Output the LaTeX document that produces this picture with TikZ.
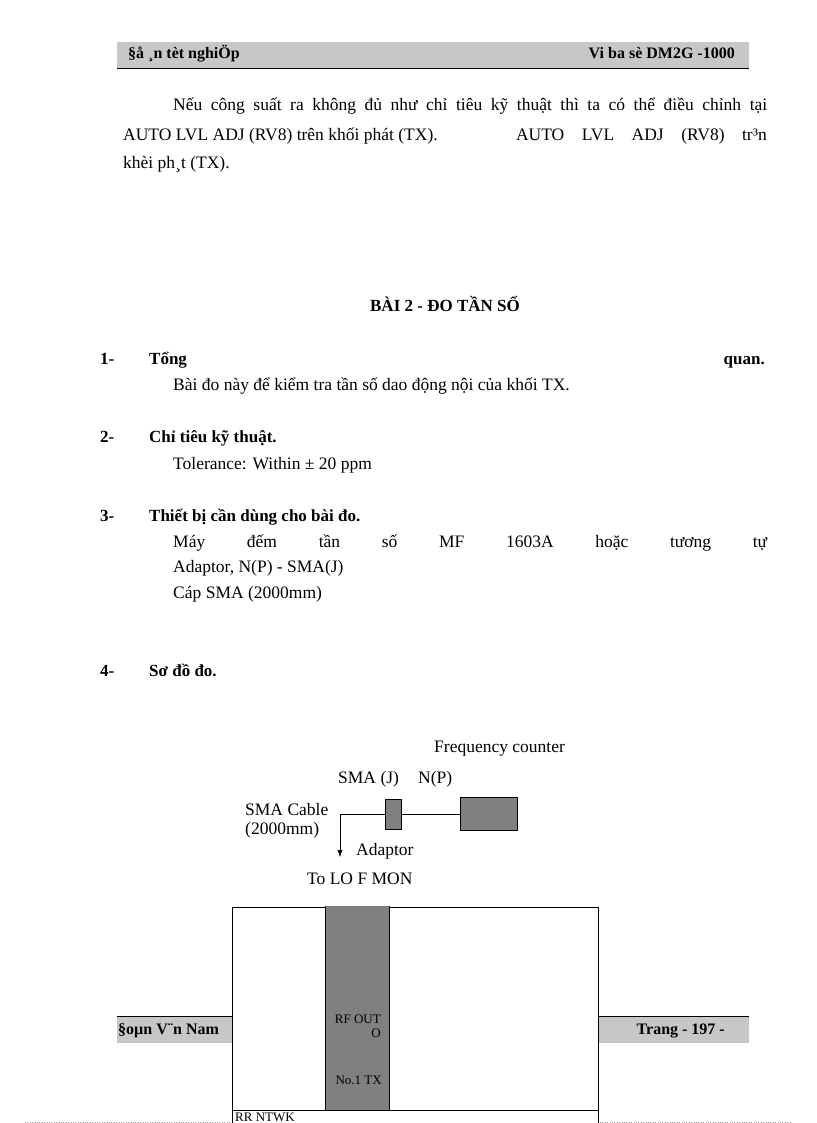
\documentclass[tikz,border=0pt]{standalone}
\usepackage{fontspec}
\setmainfont{Liberation Serif}
\usetikzlibrary{arrows.meta}
\begin{document}
\begin{tikzpicture}[x=1pt,y=-1pt,
  txt/.style={anchor=west,inner sep=0pt,text height=12,text depth=4,font=\fontsize{17.5}{19}\selectfont},
  btxt/.style={txt,font=\fontsize{17}{19}\selectfont\bfseries},
  htxt/.style={txt,font=\fontsize{16}{18}\selectfont\bfseries},
  jtxt/.style={txt,text width=594,align=justify,execute at begin node={\parfillskip=0pt}},
  dtxt/.style={anchor=west,inner sep=0pt,text height=11,text depth=3,font=\fontsize{17.5}{19}\selectfont},
  stxt/.style={inner sep=0pt,font=\fontsize{13}{15}\selectfont},
  band/.style={fill=black!22,draw=none},
  gbox/.style={fill=black!50,draw=black}]
\useasboundingbox (0,0) rectangle (816,1123);
% header
\fill[band] (117,42) rectangle (749,68);
\draw (117,68) -- (749,68);
\node[htxt] (h1) at (128,55) {§å ¸n tèt nghiÖp};
\node[htxt,anchor=east] (h2) at (735,55) {Vi ba sè DM2G -1000};
% paragraph
\node[jtxt] (p1) at (173,107) {Nếu công suất ra không đủ như chỉ tiêu kỹ thuật thì ta có thể điều chỉnh tại};
\node[txt] (p2) at (123,137) {AUTO LVL ADJ (RV8) trên khối phát (TX).};
\node[txt,anchor=east] (p3) at (767,137) {AUTO\quad LVL\quad ADJ\quad (RV8)\quad tr³n};
\node[txt] (p4) at (123,165) {khèi ph¸t (TX).};
\node[btxt,anchor=center] (t) at (445,307) {BÀI 2 - ĐO TẦN SỐ};
\node[btxt] (n1) at (100,360) {1-};
\node[btxt] (s1) at (149,360) {Tổng};
\node[btxt,anchor=east] (s1b) at (765,360) {quan.};
\node[txt] (l1) at (173,386) {Bài đo này để kiểm tra tần số dao động nội của khối TX.};
\node[btxt] (n2) at (100,438) {2-};
\node[btxt] (s2) at (149,438) {Chỉ tiêu kỹ thuật.};
\node[txt] (l2) at (173,465) {Tolerance: Within ± 20 ppm};
\node[btxt] (n3) at (100,517) {3-};
\node[btxt] (s3) at (149,517) {Thiết bị cần dùng cho bài đo.};
\node[jtxt] (l3) at (173,543) {Máy đếm tần số MF 1603A hoặc tương tự};
\node[txt] (l4) at (173,568) {Adaptor, N(P) - SMA(J)};
\node[txt] (l5) at (173,594) {Cáp SMA (2000mm)};
\node[btxt] (n4) at (100,672) {4-};
\node[btxt] (s4) at (149,672) {Sơ đồ đo.};
% diagram
\node[dtxt] (fc) at (434,748) {Frequency counter};
\node[dtxt] (sj) at (338,779) {SMA (J)};
\node[dtxt] (np) at (418,779) {N(P)};
\node[gbox,minimum width=16,minimum height=30,inner sep=0pt] (ad) at (393,814) {};
\node[gbox,minimum width=57,minimum height=33,inner sep=0pt] (cnt) at (488.5,814) {};
\coordinate (c0) at (340,814);
\coordinate (c1) at (340,857);
\draw (ad.east) -- (cnt.west);
\draw (ad.west) -- (c0);
\draw[-{Latex[length=7pt,width=5pt]}] (c0) -- (c1);
\node[dtxt] (sc) at (245,811) {SMA Cable};
\node[dtxt] (mm) at (245,830) {(2000mm)};
\node[dtxt] (adl) at (356,851) {Adaptor};
\node[dtxt] (lo) at (307,880) {To LO F MON};
% footer band
\fill[band] (117,1016) rectangle (749,1043);
\draw (117,1016) -- (749,1016);
\node[htxt] (f1) at (118,1030) {§oµn V¨n Nam};
\node[htxt,anchor=east] (f2) at (725,1030) {Trang - 197 -};
% big box
\fill[white] (232,907) rectangle (598,1123);
\draw (232,1123) -- (232,907) -- (598,907) -- (598,1123);
\fill[black!50] (325,906) rectangle (389,1110);
\draw (325,906) -- (325,1110) (389,906) -- (389,1110);
\draw (232,1110) -- (598,1110);
\node[stxt,anchor=east] (rf) at (381,1019) {RF OUT};
\node[stxt,anchor=east] (o) at (381,1033) {O};
\node[stxt,anchor=east] (tx) at (382,1080) {No.1 TX};
\node[stxt,anchor=north west] (rr) at (235,1113) {RR NTWK};
\draw[black!40,dotted] (25,1122) -- (230,1122) (600,1122) -- (790,1122);
\end{tikzpicture}
\end{document}
